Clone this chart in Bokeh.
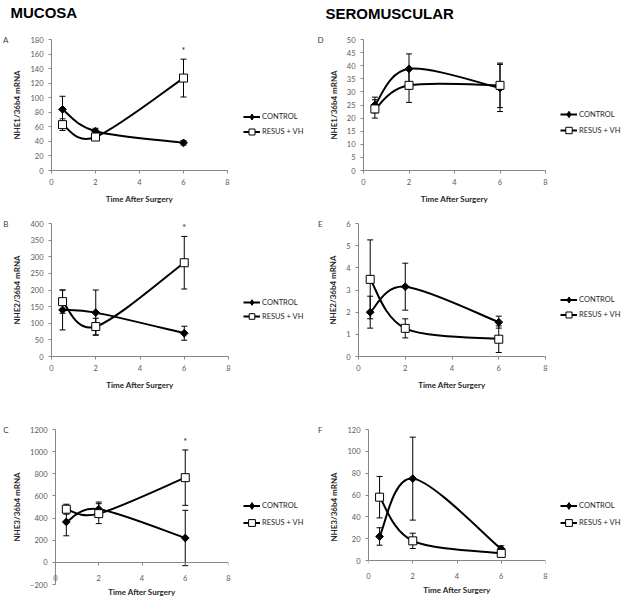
from bokeh.plotting import figure
from bokeh.layouts import column, row
from bokeh.models import (ColumnDataSource, Whisker, TeeHead, Legend, LegendItem, Label,
                          FixedTicker, Range1d, LinearAxis)
from bokeh.core.properties import value
from bokeh.embed import file_html
from bokeh.resources import INLINE

# ---------------- data ----------------
hours = [0.5, 2, 6]
x_ticks = [0, 2, 4, 6, 8]
series_names = ["CONTROL", "RESUS + VH"]
x_title = "Time After Surgery"
headers = ["MUCOSA", "SEROMUSCULAR"]

# A  NHE1 mucosa
a_control = [84, 54, 38]
a_control_err = [18, 4, 3]
a_resus = [63, 46, 127]
a_resus_err = [8, 3, 26]
a_yticks = [0, 20, 40, 60, 80, 100, 120, 140, 160, 180]

# B  NHE2 mucosa
b_control = [140, 132, 70]
b_control_err = [60, 68, 21]
b_resus = [165, 90, 282]
b_resus_err = [35, 25, 79]
b_yticks = [0, 50, 100, 150, 200, 250, 300, 350, 400]

# C  NHE3 mucosa
c_control = [365, 480, 220]
c_control_err = [125, 65, 250]
c_resus = [480, 440, 765]
c_resus_err = [45, 90, 250]
c_yticks = [-200, 0, 200, 400, 600, 800, 1000, 1200]

# D  NHE1 seromuscular
d_control = [25, 38.8, 31.5]
d_control_err = [3, 5.7, 9]
d_resus = [23.5, 32.5, 32.5]
d_resus_err = [3.5, 6.5, 8.5]
d_yticks = [0, 5, 10, 15, 20, 25, 30, 35, 40, 45, 50]

# E  NHE2 seromuscular
e_control = [2.0, 3.15, 1.55]
e_control_err = [0.72, 1.06, 0.27]
e_resus = [3.48, 1.27, 0.78]
e_resus_err = [1.78, 0.43, 0.6]
e_yticks = [0, 1, 2, 3, 4, 5, 6]

# F  NHE3 seromuscular
f_control = [22, 75, 10.5]
f_control_err = [8, 38, 3]
f_resus = [58, 18, 6.5]
f_resus_err = [19, 7, 3]
f_yticks = [0, 20, 40, 60, 80, 100, 120]

TICK_FONT = "Lato"
AXIS_GRAY = "#868686"
LABEL_GRAY = "#595959"
NAN = float("nan")

CTRL_MARK = dict(marker="square", angle=0.785398, size=5.5, fill_color="black", line_color="black")
RESUS_MARK = dict(marker="square", angle=0, size=8, fill_color="white", line_color="black")
CTRL_KEY = dict(marker="diamond", size=8, fill_color="black", line_color="black")
RESUS_KEY = dict(marker="square", size=7, fill_color="white", line_color="black")


def smooth(xs, ys):
    """Bezier segments through the data points (Excel-like smoothed line)."""
    n = len(xs)
    d = dict(x0=[], y0=[], x1=[], y1=[], cx0=[], cy0=[], cx1=[], cy1=[])
    for i in range(n - 1):
        xa, ya = xs[max(i - 1, 0)], ys[max(i - 1, 0)]
        xb, yb = xs[min(i + 2, n - 1)], ys[min(i + 2, n - 1)]
        d["x0"].append(xs[i]); d["y0"].append(ys[i])
        d["x1"].append(xs[i + 1]); d["y1"].append(ys[i + 1])
        d["cx0"].append(xs[i] + (xs[i + 1] - xa) / 6)
        d["cy0"].append(ys[i] + (ys[i + 1] - ya) / 6)
        d["cx1"].append(xs[i + 1] - (xb - xs[i]) / 6)
        d["cy1"].append(ys[i + 1] - (yb - ys[i]) / 6)
    return d


def blank(w, h):
    f = figure(width=w, height=h, x_range=Range1d(0, 1), y_range=Range1d(0, 1),
               min_border=0, x_axis_type=None, y_axis_type=None,
               toolbar_location=None, tools="", output_backend="svg")
    f.outline_line_color = None
    f.title.visible = False
    f.grid.visible = False
    return f


def legend_fig(w, h, loc, pitch):
    f = blank(w, h)
    items = []
    for name, mk in zip(series_names, (CTRL_KEY, RESUS_KEY)):
        lr = f.line(x=[NAN], y=[NAN], line_color="black", line_width=2)
        sr = f.scatter(x=[NAN], y=[NAN], line_width=1, **mk)
        items.append(LegendItem(label=name, renderers=[lr, sr]))
    legend = Legend(items=items, location=loc, padding=0, margin=0,
                    spacing=0, glyph_width=17, glyph_height=int(pitch),
                    label_height=int(pitch), label_standoff=2,
                    label_text_font=TICK_FONT, label_text_font_size="7.5px",
                    label_text_color="#262626",
                    border_line_color=None, background_fill_alpha=0)
    f.add_layout(legend)
    return f


def panel(W, H, bl, br, bt, bb, yticks, ytitle, ctrl, ctrl_err, resus, resus_err,
          letter, letter_gap, star=False, zero_axis=None, extra_px=0, frame_h=1):
    y_lo = yticks[0]
    if extra_px:
        # frame reaches below y = 0 (row shares its bottom with a taller panel)
        y_lo = yticks[0] - (yticks[-1] - yticks[0]) * extra_px / (frame_h - extra_px)
    p = figure(width=W, height=H, min_border_left=bl, min_border_right=br,
               min_border_top=bt, min_border_bottom=bb,
               x_range=Range1d(x_ticks[0], x_ticks[-1]),
               y_range=Range1d(y_lo, yticks[-1]),
               output_backend="svg", toolbar_location=None, tools="")
    p.title.visible = False
    p.outline_line_color = None
    p.xgrid.visible = False
    p.ygrid.visible = False

    for ax in (p.xaxis[0], p.yaxis[0]):
        ax.axis_line_color = AXIS_GRAY
        ax.major_tick_line_color = AXIS_GRAY
        ax.minor_tick_line_color = None
        ax.major_tick_in = 0
        ax.major_tick_out = 3
        ax.major_label_text_font = TICK_FONT
        ax.major_label_text_font_size = "7.5px"
        ax.major_label_text_color = LABEL_GRAY
        ax.axis_label_text_font = TICK_FONT
        ax.axis_label_text_font_size = "8px"
        ax.axis_label_text_font_style = "bold"
        ax.axis_label_text_color = "#262626"
    p.xaxis.ticker = FixedTicker(ticks=x_ticks)
    p.yaxis.ticker = FixedTicker(ticks=yticks)
    p.yaxis.bounds = (yticks[0], yticks[-1])
    p.xaxis.axis_label = x_title
    p.yaxis.axis_label = ytitle
    p.xaxis.major_label_standoff = 5
    p.xaxis.axis_label_standoff = 6
    p.yaxis.major_label_standoff = 5
    p.yaxis.axis_label_standoff = 5

    # panel letter, level with the top of the y axis
    p.add_layout(LinearAxis(ticker=FixedTicker(ticks=[yticks[-1]]),
                            major_label_overrides={yticks[-1]: letter},
                            axis_line_color=None, major_tick_line_color=None,
                            minor_tick_line_color=None, major_tick_in=0, major_tick_out=0,
                            major_label_standoff=letter_gap,
                            major_label_text_font=TICK_FONT,
                            major_label_text_font_size="8px",
                            major_label_text_color="#404040"), "left")

    if zero_axis is not None:
        # labels + title stay in the bottom panel, line + ticks sit at y = 0
        ax = p.xaxis[0]
        ax.axis_line_color = None
        ax.major_tick_line_color = None
        ax.major_tick_out = 0
        ax.major_label_standoff = zero_axis
        ax.axis_label_standoff = 3
        zax = LinearAxis(fixed_location=0, ticker=FixedTicker(ticks=x_ticks),
                         axis_line_color=AXIS_GRAY, major_tick_line_color=AXIS_GRAY,
                         major_tick_in=0, major_tick_out=3,
                         minor_tick_line_color=None,
                         major_label_text_font_size="0px",
                         major_label_text_alpha=0, major_label_standoff=0)
        p.add_layout(zax, "below")

    for name, ys, errs, mk in ((series_names[0], ctrl, ctrl_err, CTRL_MARK),
                               (series_names[1], resus, resus_err, RESUS_MARK)):
        src = ColumnDataSource(dict(x=hours, y=ys,
                                    upper=[v + e for v, e in zip(ys, errs)],
                                    lower=[v - e for v, e in zip(ys, errs)]))
        w = Whisker(base="x", upper="upper", lower="lower", source=src,
                    line_color="black", line_width=1,
                    upper_head=TeeHead(size=6, line_color="black", line_width=1),
                    lower_head=TeeHead(size=6, line_color="black", line_width=1))
        p.add_layout(w)
        p.bezier(source=ColumnDataSource(smooth(hours, ys)), x0="x0", y0="y0",
                 x1="x1", y1="y1", cx0="cx0", cy0="cy0", cx1="cx1", cy1="cy1",
                 line_color="black", line_width=2)
        p.scatter("x", "y", source=src, line_width=1, **mk)
        if star and name == series_names[1]:
            p.text(x=[hours[-1]], y=[ys[-1] + errs[-1]], text=["*"],
                   text_font=value(TICK_FONT), text_font_size="9px",
                   text_color="#262626", text_align="center",
                   text_baseline="bottom", y_offset=-3)
    return p


# header strip (y 0..26)
head = blank(626, 26)
head.add_layout(Label(x=10, y=14, x_units="screen", y_units="screen", text=headers[0],
                      text_font="Liberation Sans", text_font_size="15px",
                      text_font_style="bold", text_color="black",
                      text_baseline="middle", text_align="left"))
head.add_layout(Label(x=325, y=13, x_units="screen", y_units="screen", text=headers[1],
                      text_font="Liberation Sans", text_font_size="15px",
                      text_font_style="bold", text_color="black",
                      text_baseline="middle", text_align="left"))

# row 1 (y 26..212): frames 39..170
pA = panel(235, 186, 49, 8, 13, 42, a_yticks, "NHE1/36b4 mRNA",
           a_control, a_control_err, a_resus, a_resus_err, "A", 1, star=True)
gA = legend_fig(79, 186, (8, 31), 15)
pD = panel(238, 186, 48, 7, 13, 42, d_yticks, "NHE1/36b4 mRNA",
           d_control, d_control_err, d_resus, d_resus_err, "D", 2)
gD = legend_fig(74, 186, (8, 32), 16)

# row 2 (y 212..400): frames 223..356
pB = panel(235, 188, 50, 7, 11, 44, b_yticks, "NHE2/36b4 mRNA",
           b_control, b_control_err, b_resus, b_resus_err, "B", 1, star=True)
gB = legend_fig(79, 188, (8, 33), 14)
pE = panel(238, 188, 44, 7, 11, 44, e_yticks, "NHE2/36b4 mRNA",
           e_control, e_control_err, e_resus, e_resus_err, "E", 3)
gE = legend_fig(74, 188, (8, 34), 15)

# row 3 (y 400..604): frames 429..584
pC = panel(235, 204, 53, 7, 29, 20, c_yticks, "NHE3/36b4 mRNA",
           c_control, c_control_err, c_resus, c_resus_err, "C", 1,
           star=True, zero_axis=-10)
gC = legend_fig(79, 204, (8, 53), 17)
pF = panel(238, 204, 53, 7, 29, 20, f_yticks, "NHE3/36b4 mRNA",
           f_control, f_control_err, f_resus, f_resus_err, "F", 4,
           zero_axis=-12, extra_px=24, frame_h=155)
gF = legend_fig(74, 204, (8, 53), 17)

layout = column(head,
                row(pA, gA, pD, gD),
                row(pB, gB, pE, gE),
                row(pC, gC, pF, gF))
open("out.html", "w").write(file_html(layout, INLINE))
